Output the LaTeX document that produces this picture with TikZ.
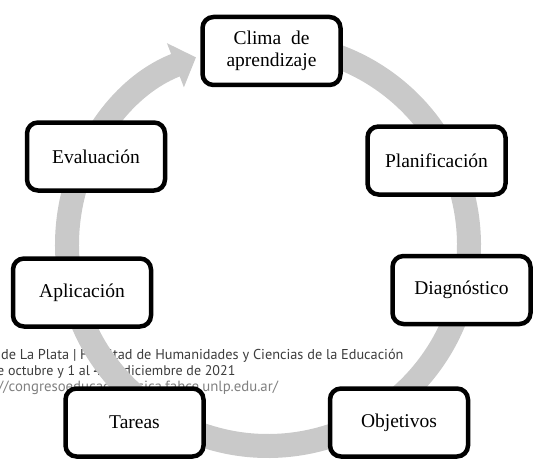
\documentclass[tikz,border=0pt]{standalone}
\usepackage{fontspec}
\setmainfont{Liberation Serif}
\newfontfamily\footfont{PT Sans}
\usetikzlibrary{arrows.meta}
\definecolor{cband}{HTML}{C9C9C9}
\definecolor{cfoot}{HTML}{3C3C3C}
\definecolor{curl}{HTML}{808080}
\tikzset{
  cbox/.style={
    rounded corners=11pt, draw=black, line width=4.5pt, fill=white,
    align=center, minimum width=138pt, minimum height=68pt, inner sep=2pt,
    font=\fontsize{19.5}{22}\selectfont},
  cring/.style={
    draw=cband, line width=24pt,
    -{Triangle[length=22pt,width=46pt]}},
  cfoottext/.style={
    anchor=base west, inner sep=0pt,
    font=\footfont\fontsize{#1}{16}\selectfont},
  cfoottext/.default=14,
}
\begin{document}
\begin{tikzpicture}[x=1pt,y=1pt]
\useasboundingbox (0,0) rectangle (533,459);
\clip (0,0) rectangle (533,459);

% footer of the page, under the ring
\node[cfoottext=14.3,text=cfoot] (foot1) at (1,100)
  {de La Plata | Facultad de Humanidades y Ciencias de la Educación};
\node[cfoottext,text=cfoot] (foot2) at (-3,84)
  {e octubre y 1 al 4 de diciembre de 2021};
\node[cfoottext=14.8,text=curl] (foot3) at (-2,68)
  {//congresoeducacionfisica.fahce.unlp.edu.ar/};

% the cycle
\coordinate (mid) at (268,214);
\draw[cring] (mid) ++(95:201pt) arc[start angle=95,end angle=-249,radius=201pt];

\node[cbox] (clima) at (271.5,408) {Clima~~de\\aprendizaje};
\node[cbox] (plan)  at (436.5,298.5) {Planificación};
\node[cbox] (diag)  at (461.5,169) {Diagnóstico};
\node[cbox] (obj)   at (399,36.5) {Objetivos};
\node[cbox] (tar)   at (134.5,36.5) {Tareas};
\node[cbox] (apl)   at (82,166.5) {Aplicación};
\node[cbox] (eval)  at (96,302.5) {Evaluación};

\end{tikzpicture}
\end{document}
